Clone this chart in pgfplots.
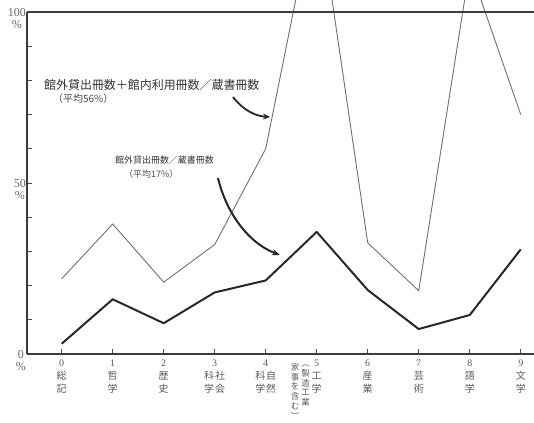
\documentclass[border=0pt]{standalone}
\usepackage{fontspec}
\setmainfont{Liberation Serif}
\newfontfamily\jp{Noto Sans CJK JP}
\usepackage{pgfplots}
\pgfplotsset{compat=1.18}
\usetikzlibrary{arrows.meta}

\definecolor{thinline}{RGB}{105,112,130}
\definecolor{thickline}{RGB}{40,40,40}
\definecolor{frame}{RGB}{60,60,60}

% one vertical column of characters
\newcommand{\vc}[1]{\begin{tabular}[t]{@{}c@{}}#1\end{tabular}}
\newcommand{\nm}[1]{{\rmfamily #1}}
% smaller, tighter columns for the label of class 5
\newcommand{\vs}[1]{{\fontsize{8.5}{9.5}\selectfont\begin{tabular}[t]{@{}c@{}}#1\end{tabular}}}

\begin{document}
\begin{tikzpicture}
\path[use as bounding box] (0,0) rectangle (534bp,-423bp);
\begin{axis}[
  at={(27bp,-354bp)}, anchor=south west,
  scale only axis, width=507bp, height=354bp,
  xmin=-0.68, xmax=9.26, ymin=0, ymax=103.5,
  axis line style={draw=none},
  tick pos=left, tick align=inside,
  major tick length=5bp, minor tick length=5bp,
  tick style={color=black!70, line width=0.8bp},
  xtick={0,...,9},
  xticklabels={
    {\vc{\nm{0}\\総\\記}},
    {\vc{\nm{1}\\哲\\学}},
    {\vc{\nm{2}\\歴\\史}},
    {\vc{\nm{3}\\\vc{科\\学}\hspace{1bp}\vc{社\\会}}},
    {\vc{\nm{4}\\\vc{科\\学}\hspace{1bp}\vc{自\\然}}},
    {\llap{\vs{\\[-6bp]家\\事\\を\\含\\む\\︶}\hspace{2bp}\vs{︵\\製\\造\\工\\業}\hspace{2bp}}\vc{\nm{5}\\工\\学}},
    {\vc{\nm{6}\\産\\業}},
    {\vc{\nm{7}\\芸\\術}},
    {\vc{\nm{8}\\語\\学}},
    {\vc{\nm{9}\\文\\学}}
  },
  xticklabel style={font=\jp\fontsize{10}{13}\selectfont, text=black!65,
    anchor=north, inner sep=0pt, yshift=-3bp},
  ytick={0,50,100},
  yticklabels={{\nm{0}\\\nm{\%}},{\nm{50}\\\nm{\%}},{\nm{100}\\\nm{\%}}},
  minor ytick={10,20,30,40,60,70,80,90},
  yticklabel style={font=\fontsize{12}{12}\selectfont, text=black!60,
    align=center, anchor=north east, inner sep=0pt, yshift=4bp, xshift=-1bp},
]
% total use (lending + in-library) / holdings
\addplot[color=thinline, line width=0.9bp] coordinates {
  (0,22) (1,38) (2,21) (3,32) (4,60) (5,134) (6,32.5) (7,18.5) (8,113) (9,70)
};
% lending / holdings
\addplot[color=thickline, line width=2bp, line join=round] coordinates {
  (0,3) (1,16) (2,9) (3,18) (4,21.5) (5,35.7) (6,18.7) (7,7.3) (8,11.4) (9,30.6)
};
\end{axis}

% frame: left, bottom and the 100% line
\draw[frame, line width=1.3bp] (27bp,-12bp) -- (27bp,-354bp);
\draw[frame, line width=1.8bp] (27bp,-354bp) -- (534bp,-354bp);
\draw[frame, line width=1.2bp] (27bp,-12bp) -- (534bp,-12bp);

% annotations
\node[anchor=west, inner sep=0pt, text=black!80, font=\jp\fontsize{12}{13}\selectfont]
  at (44bp,-85bp) {館外貸出冊数＋館内利用冊数／蔵書冊数};
\node[anchor=west, inner sep=0pt, text=black!70, font=\jp\fontsize{10}{12}\selectfont]
  at (53bp,-99bp) {（平均56\%）};
\node[anchor=west, inner sep=0pt, text=black!80, font=\jp\fontsize{9}{11}\selectfont]
  at (115bp,-160bp) {館外貸出冊数／蔵書冊数};
\node[anchor=west, inner sep=0pt, text=black!70, font=\jp\fontsize{9}{11}\selectfont]
  at (124bp,-174bp) {（平均17\%）};

\draw[black!85, line width=1.8bp, -{Stealth[length=7bp,width=6bp]}]
  (233bp,-97bp) .. controls (243bp,-110bp) and (255bp,-116bp) .. (270bp,-117bp);
\draw[black!85, line width=2bp, -{Stealth[length=8bp,width=6bp]}]
  (218bp,-178bp) .. controls (226bp,-212bp) and (248bp,-243bp) .. (280bp,-255bp);
\end{tikzpicture}
\end{document}
